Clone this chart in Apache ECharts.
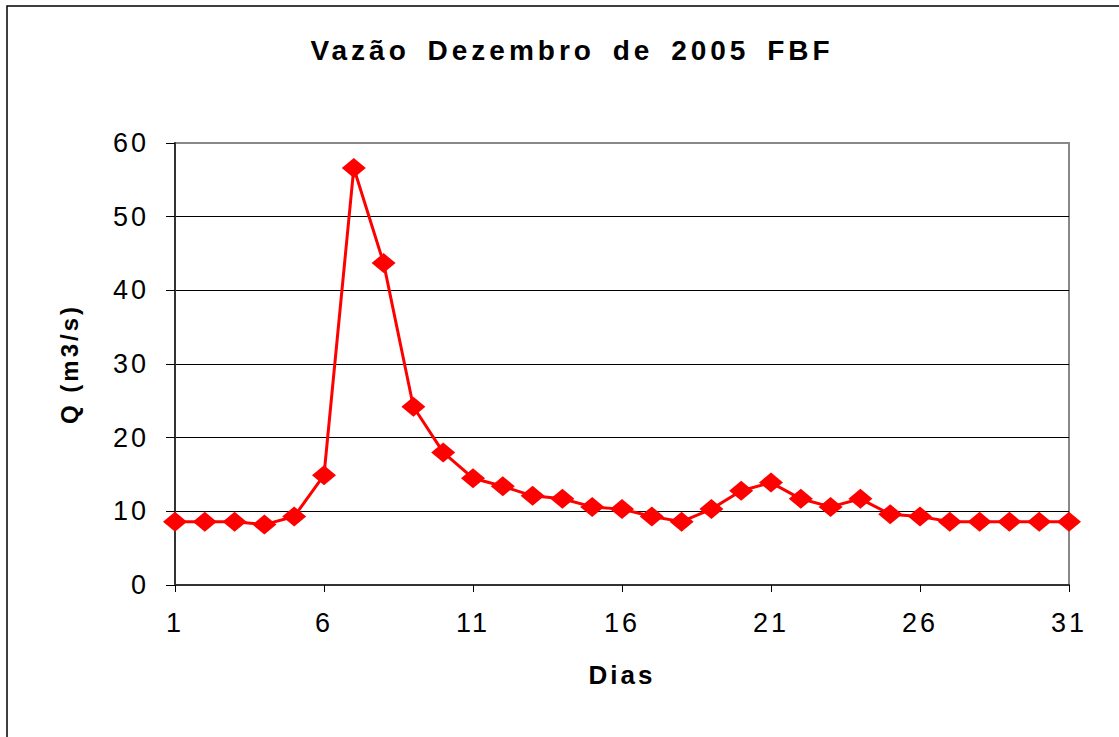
<!DOCTYPE html>
<html>
<head>
<meta charset="utf-8">
<title>Vazão Dezembro de 2005 FBF</title>
<script src="https://cdn.jsdelivr.net/npm/echarts@6/dist/echarts.min.js"></script>
<style>
  html, body { margin: 0; padding: 0; background: #fff; }
  #chart { width: 1119px; height: 737px; }
</style>
</head>
<body>
<div id="chart"></div>
<script>
const titleText = 'Vazão Dezembro de 2005 FBF';
const xName = 'Dias';
const yName = 'Q (m3/s)';

// dias do mês
const days = ['1', '2', '3', '4', '5', '6', '7', '8', '9', '10', '11', '12', '13', '14', '15', '16',
  '17', '18', '19', '20', '21', '22', '23', '24', '25', '26', '27', '28', '29', '30', '31'];

// vazão diária (m3/s)
const flow = [8.6, 8.6, 8.6, 8.2, 9.3, 14.9, 56.6, 43.7, 24.2, 18.0, 14.5, 13.4, 12.1, 11.7, 10.6, 10.3,
  9.3, 8.6, 10.3, 12.8, 13.9, 11.7, 10.6, 11.7, 9.6, 9.3, 8.6, 8.6, 8.6, 8.6, 8.6];

const yTicks = [0, 10, 20, 30, 40, 50, 60];

const font = "'Liberation Sans', Arial, sans-serif";

const chart = echarts.init(document.getElementById('chart'), null, { renderer: 'svg' });

// top gridline is part of the gray plot frame, the others are black
const splitColors = yTicks.map((v, i) => (i === yTicks.length - 1 ? '#888888' : '#000000'));

const option = {
  animation: false,
  backgroundColor: '#ffffff',
  graphic: [
    {
      type: 'rect',
      shape: { x: 7, y: 6, width: 1200, height: 800 },
      style: { fill: 'none', stroke: '#000', lineWidth: 1.5 },
      silent: true
    }
  ],
  title: {
    text: titleText,
    left: 567,
    top: 31,
    textAlign: 'center',
    textStyle: { fontFamily: font, fontSize: 28, fontWeight: 'bold', color: '#000' }
  },
  grid: {
    left: 175,
    right: 50,
    top: 143,
    bottom: 152,
    show: true,
    borderColor: '#888888',
    borderWidth: 2,
    backgroundColor: '#ffffff'
  },
  xAxis: {
    type: 'category',
    data: days,
    boundaryGap: false,
    name: xName,
    nameLocation: 'middle',
    nameGap: 77,
    nameTextStyle: { fontFamily: font, fontSize: 26, fontWeight: 'bold', color: '#000' },
    axisLine: { lineStyle: { color: '#333', width: 2 } },
    axisTick: { interval: 4, length: 7, lineStyle: { color: '#000', width: 1 } },
    axisLabel: { interval: 4, margin: 24, fontFamily: font, fontSize: 27, color: '#000' },
    splitLine: { show: false }
  },
  yAxis: {
    type: 'value',
    min: 0,
    max: 60,
    interval: 10,
    name: yName,
    nameLocation: 'middle',
    nameGap: 94,
    nameTextStyle: { fontFamily: font, fontSize: 24, fontWeight: 'bold', color: '#000' },
    axisLine: { show: true, lineStyle: { color: '#333', width: 2 } },
    axisTick: { show: true, length: 9, lineStyle: { color: '#000', width: 1 } },
    axisLabel: { margin: 26, fontFamily: font, fontSize: 27, color: '#000' },
    splitLine: { show: true, lineStyle: { color: splitColors, width: 1 } }
  },
  series: [
    {
      name: 'Vazão',
      type: 'line',
      data: flow,
      symbol: 'diamond',
      symbolSize: [24, 20],
      showSymbol: true,
      showAllSymbol: true,
      itemStyle: { color: '#ff0000' },
      lineStyle: { color: '#ff0000', width: 3 }
    }
  ]
};

chart.setOption(option);

// the original chart has widely spaced lettering
function spaceLetters() {
  chart.getDom().querySelectorAll('text').forEach(t => {
    if (t.textContent === titleText) {
      t.style.letterSpacing = '4px';
      t.style.wordSpacing = '6px';
    } else {
      t.style.letterSpacing = '3px';
    }
  });
}
spaceLetters();
chart.on('finished', spaceLetters);
</script>
</body>
</html>
